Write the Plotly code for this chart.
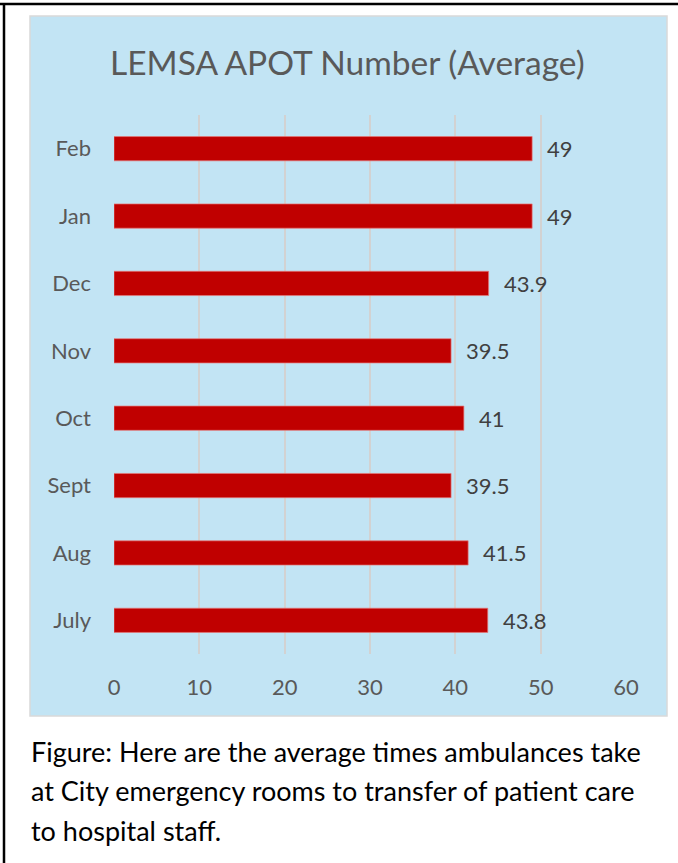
import plotly.graph_objects as go

months = ["July", "Aug", "Sept", "Oct", "Nov", "Dec", "Jan", "Feb"]
values = [43.8, 41.5, 39.5, 41, 39.5, 43.9, 49, 49]
value_labels = ["43.8", "41.5", "39.5", "41", "39.5", "43.9", "49", "49"]
x_ticks = [0, 10, 20, 30, 40, 50, 60]
title_text = "LEMSA APOT Number (Average)"
caption_lines = [
    "Figure: Here are the average times ambulances take",
    "at City emergency rooms to transfer of patient care",
    "to hospital staff.",
]

W, H = 678, 863
L, R, T, B = 114, 52, 115, 209
PW = W - L - R
PH = H - T - B
PB = H - B  # plot bottom pixel


def px(x):
    return (x - L) / PW


def py(y):
    return (PB - y) / PH


FONT = "Lato, Calibri, Carlito, sans-serif"

fig = go.Figure()
fig.add_trace(go.Bar(
    x=values, y=months, orientation="h",
    marker=dict(color="#C00000", line=dict(color="rgba(230,120,120,0.7)", width=1)),
    width=0.36, hoverinfo="skip",
))

annotations = []
for m, v, t in zip(months, values, value_labels):
    annotations.append(dict(x=v, y=m, xref="x", yref="y", text=t, showarrow=False,
                            xanchor="left", yanchor="middle", xshift=13,
                            font=dict(family=FONT, size=22, color="#404040")))

annotations.append(dict(x=px(347), y=py(62), xref="paper", yref="paper", text=title_text,
                        showarrow=False, xanchor="center", yanchor="middle",
                        font=dict(family=FONT, size=33.5, color="#595959")))

for i, line in enumerate(caption_lines):
    annotations.append(dict(x=px(29), y=py(751 + 39.5 * i), xref="paper", yref="paper",
                            text=line, showarrow=False, xanchor="left", yanchor="middle",
                            font=dict(family=FONT, size=27, color="#000000")))

shapes = [
    dict(type="rect", xref="paper", yref="paper", x0=px(30), x1=px(667), y0=py(716), y1=py(16),
         fillcolor="#C2E4F4", line=dict(color="#D9D9D9", width=1.5), layer="below"),
    dict(type="line", xref="paper", yref="paper", x0=px(0), x1=px(W), y0=py(4), y1=py(4),
         line=dict(color="black", width=2.5)),
    dict(type="line", xref="paper", yref="paper", x0=px(4), x1=px(4), y0=py(4), y1=py(H + 5),
         line=dict(color="black", width=2.5)),
]

fig.update_layout(
    width=W, height=H,
    margin=dict(l=L, r=R, t=T, b=B, autoexpand=False),
    paper_bgcolor="white", plot_bgcolor="rgba(0,0,0,0)",
    showlegend=False,
    annotations=annotations, shapes=shapes,
    xaxis=dict(range=[0, 60], tickvals=x_ticks, showgrid=True, gridcolor="#D2D2D2", gridwidth=1.5,
               zeroline=False, showline=False, ticks="", ticklabelstandoff=18,
               tickfont=dict(family=FONT, size=22, color="#595959"), fixedrange=True),
    yaxis=dict(categoryorder="array", categoryarray=months, range=[-0.5, 7.5],
               showgrid=False, zeroline=False, showline=False, ticks="", ticklabelstandoff=22,
               tickfont=dict(family=FONT, size=22, color="#595959"), fixedrange=True),
)

fig.write_html("out.html", config={"displayModeBar": False})
